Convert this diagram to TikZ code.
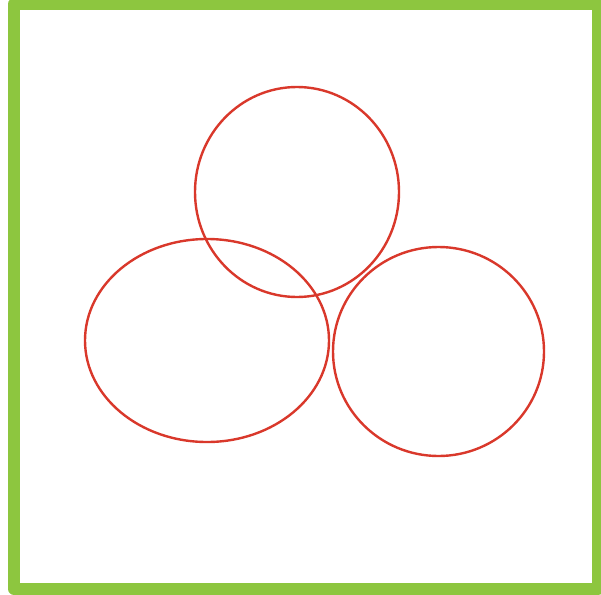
\documentclass[tikz,border=0pt]{standalone}
\definecolor{framegreen}{HTML}{8DC63F}
\definecolor{ringred}{HTML}{D9382B}
\begin{document}
\begin{tikzpicture}[x=1pt,y=-1pt,
  frame/.style={draw=framegreen,line width=12pt,line join=round},
  ring/.style={draw=ringred,line width=2.4pt}]
\useasboundingbox (0,0) rectangle (601,594);
\draw[frame] (14,4) rectangle (598,589);
\draw[ring] (297,192) ellipse [x radius=102, y radius=105];
\draw[ring] (207,340.5) ellipse [x radius=122, y radius=101.5];
\draw[ring] (438.5,351.5) ellipse [x radius=105.5, y radius=104.5];
\end{tikzpicture}
\end{document}
